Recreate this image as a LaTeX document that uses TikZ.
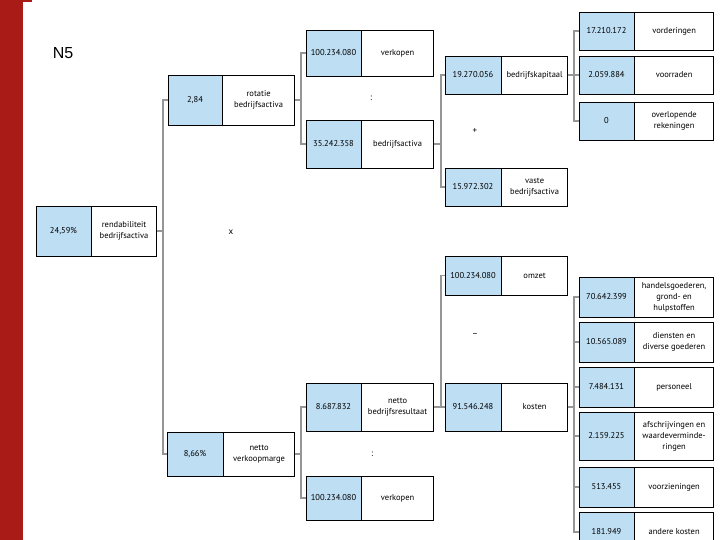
\documentclass[tikz,border=0pt]{standalone}
\usepackage{fontspec}
\setmainfont{PT Sans}
\newfontfamily\titlefont{Liberation Sans}
\usetikzlibrary{positioning}
\definecolor{valblue}{RGB}{190,222,243}
\definecolor{barred}{RGB}{168,27,22}
\definecolor{linkgray}{RGB}{150,150,150}

\begin{document}
\begin{tikzpicture}[
  x=1pt, y=-1pt,
  valbox/.style={rectangle, draw, line width=0.6pt, fill=valblue, inner sep=0pt, minimum width=55pt,
                 align=center, font=\fontsize{8.5}{11}\selectfont},
  namebox/.style={rectangle, draw, line width=0.6pt, fill=white, inner sep=0pt, minimum width=72pt,
                  align=center, font=\fontsize{8.5}{11}\selectfont},
  op/.style={font=\fontsize{9}{10}\selectfont},
  link/.style={draw=linkgray, line width=1.2pt},
]
  \clip (0,0) rectangle (720,540);

  % Side bar and title
  \fill[barred] (0,0) rectangle (22.5,540);
  \fill[barred] (0,0) rectangle (32,2);
  \node[font=\titlefont\fontsize{16}{18}\selectfont] (title) at (63,53) {N5};

  % Level 0: rendabiliteit
  \node[valbox, minimum height=50pt] (rendval) at (63.5,231) {24,59\%};
  \node[namebox, minimum width=65pt, minimum height=50pt, right=0pt of rendval] (rend) {rendabiliteit\\bedrijfsactiva};

  % Level 1: rotatie and marge
  \node[valbox, minimum width=54pt, minimum height=50pt] (rotval) at (195,100) {2,84};
  \node[namebox, minimum height=50pt, right=0pt of rotval] (rot) {rotatie\\bedrijfsactiva};
  \node[valbox, minimum width=56pt, minimum height=44pt] (margeval) at (195,454) {8,66\%};
  \node[namebox, minimum width=71pt, minimum height=44pt, right=0pt of margeval] (marge) {netto\\verkoopmarge};

  % Level 2
  \node[valbox, minimum height=46pt] (verkval) at (333.5,53) {100.234.080};
  \node[namebox, minimum height=46pt, right=0pt of verkval] (verk) {verkopen};
  \node[valbox, minimum height=48pt] (actval) at (333.5,144) {35.242.358};
  \node[namebox, minimum height=48pt, right=0pt of actval] (act) {bedrijfsactiva};
  \node[valbox, minimum height=48pt] (resval) at (333.5,407) {8.687.832};
  \node[namebox, minimum height=48pt, right=0pt of resval] (res) {netto\\bedrijfsresultaat};
  \node[valbox, minimum height=44pt] (verkbval) at (333.5,498) {100.234.080};
  \node[namebox, minimum height=44pt, right=0pt of verkbval] (verkb) {verkopen};

  % Level 3
  \node[valbox, minimum width=56pt, minimum height=38pt] (kapval) at (473,75) {19.270.056};
  \node[namebox, minimum width=66pt, minimum height=38pt, right=0pt of kapval] (kap) {bedrijfskapitaal};
  \node[valbox, minimum width=56pt, minimum height=38pt] (vasteval) at (473,187) {15.972.302};
  \node[namebox, minimum width=66pt, minimum height=38pt, right=0pt of vasteval] (vaste) {vaste\\bedrijfsactiva};
  \node[valbox, minimum width=56pt, minimum height=39pt] (omzetval) at (473,275.5) {100.234.080};
  \node[namebox, minimum width=66pt, minimum height=39pt, right=0pt of omzetval] (omzet) {omzet};
  \node[valbox, minimum width=56pt, minimum height=48pt] (kostval) at (473,407) {91.546.248};
  \node[namebox, minimum width=66pt, minimum height=48pt, right=0pt of kostval] (kost) {kosten};

  % Level 4: bedrijfskapitaal parts
  \node[valbox, minimum height=38pt] (vordval) at (606.5,31) {17.210.172};
  \node[namebox, minimum width=79pt, minimum height=38pt, right=0pt of vordval] (vord) {vorderingen};
  \node[valbox, minimum height=38pt] (voorval) at (606.5,75) {2.059.884};
  \node[namebox, minimum width=79pt, minimum height=38pt, right=0pt of voorval] (voor) {voorraden};
  \node[valbox, minimum height=38pt] (overval) at (606.5,121) {0};
  \node[namebox, minimum width=79pt, minimum height=38pt, right=0pt of overval] (over) {overlopende\\rekeningen};

  % Level 4: kosten parts
  \node[valbox, minimum height=40pt] (handval) at (606.5,297) {70.642.399};
  \node[namebox, minimum width=79pt, minimum height=40pt, right=0pt of handval] (hand) {handelsgoederen,\\grond- en\\hulpstoffen};
  \node[valbox, minimum height=40pt] (dienval) at (606.5,342) {10.565.089};
  \node[namebox, minimum width=79pt, minimum height=40pt, right=0pt of dienval] (dien) {diensten en\\diverse goederen};
  \node[valbox, minimum height=40pt] (persval) at (606.5,387) {7.484.131};
  \node[namebox, minimum width=79pt, minimum height=40pt, right=0pt of persval] (pers) {personeel};
  \node[valbox, minimum height=48pt] (afsval) at (606.5,436) {2.159.225};
  \node[namebox, minimum width=79pt, minimum height=48pt, right=0pt of afsval] (afs) {afschrijvingen en\\waardeverminde-\\ringen};
  \node[valbox, minimum height=40pt] (voorzval) at (606.5,487) {513.455};
  \node[namebox, minimum width=79pt, minimum height=40pt, right=0pt of voorzval] (voorz) {voorzieningen};
  \node[valbox, minimum height=40pt] (anderval) at (606.5,532) {181.949};
  \node[namebox, minimum width=79pt, minimum height=40pt, right=0pt of anderval] (ander) {andere kosten};

  % Operators
  \node[op] (times) at (231,232) {x};
  \node[op] (divone) at (371,98) {:};
  \node[op] (plus) at (475,131) {+};
  \node[op] (minus) at (475,335) {--};
  \node[op] (divtwo) at (372,454) {:};

  % Links
  \draw[link] (rend.east) -- ++(6,0) |- (rotval.west);
  \draw[link] (rend.east) -- ++(6,0) |- (margeval.west);
  \draw[link] (rot.east) -- ++(6,0) |- (verkval.west);
  \draw[link] (rot.east) -- ++(6,0) |- (actval.west);
  \draw[link] (marge.east) -- ++(6,0) |- (resval.west);
  \draw[link] (marge.east) -- ++(6,0) |- (verkbval.west);
  \draw[link] (act.east) -- ++(7,0) |- (kapval.west);
  \draw[link] (act.east) -- ++(7,0) |- (vasteval.west);
  \draw[link] (res.east) -- ++(7,0) |- (omzetval.west);
  \draw[link] (res.east) -- (kostval.west);
  \draw[link] (kap.east) -- ++(6,0) |- (vordval.west);
  \draw[link] (kap.east) -- (voorval.west);
  \draw[link] (kap.east) -- ++(6,0) |- (overval.west);
  \draw[link] (kost.east) -- ++(6,0) |- (handval.west);
  \draw[link] (kost.east) -- ++(6,0) |- (dienval.west);
  \draw[link] (kost.east) -- ++(6,0) |- (persval.west);
  \draw[link] (kost.east) -- ++(6,0) |- (afsval.west);
  \draw[link] (kost.east) -- ++(6,0) |- (voorzval.west);
  \draw[link] (kost.east) -- ++(6,0) |- (anderval.west);
\end{tikzpicture}
\end{document}
